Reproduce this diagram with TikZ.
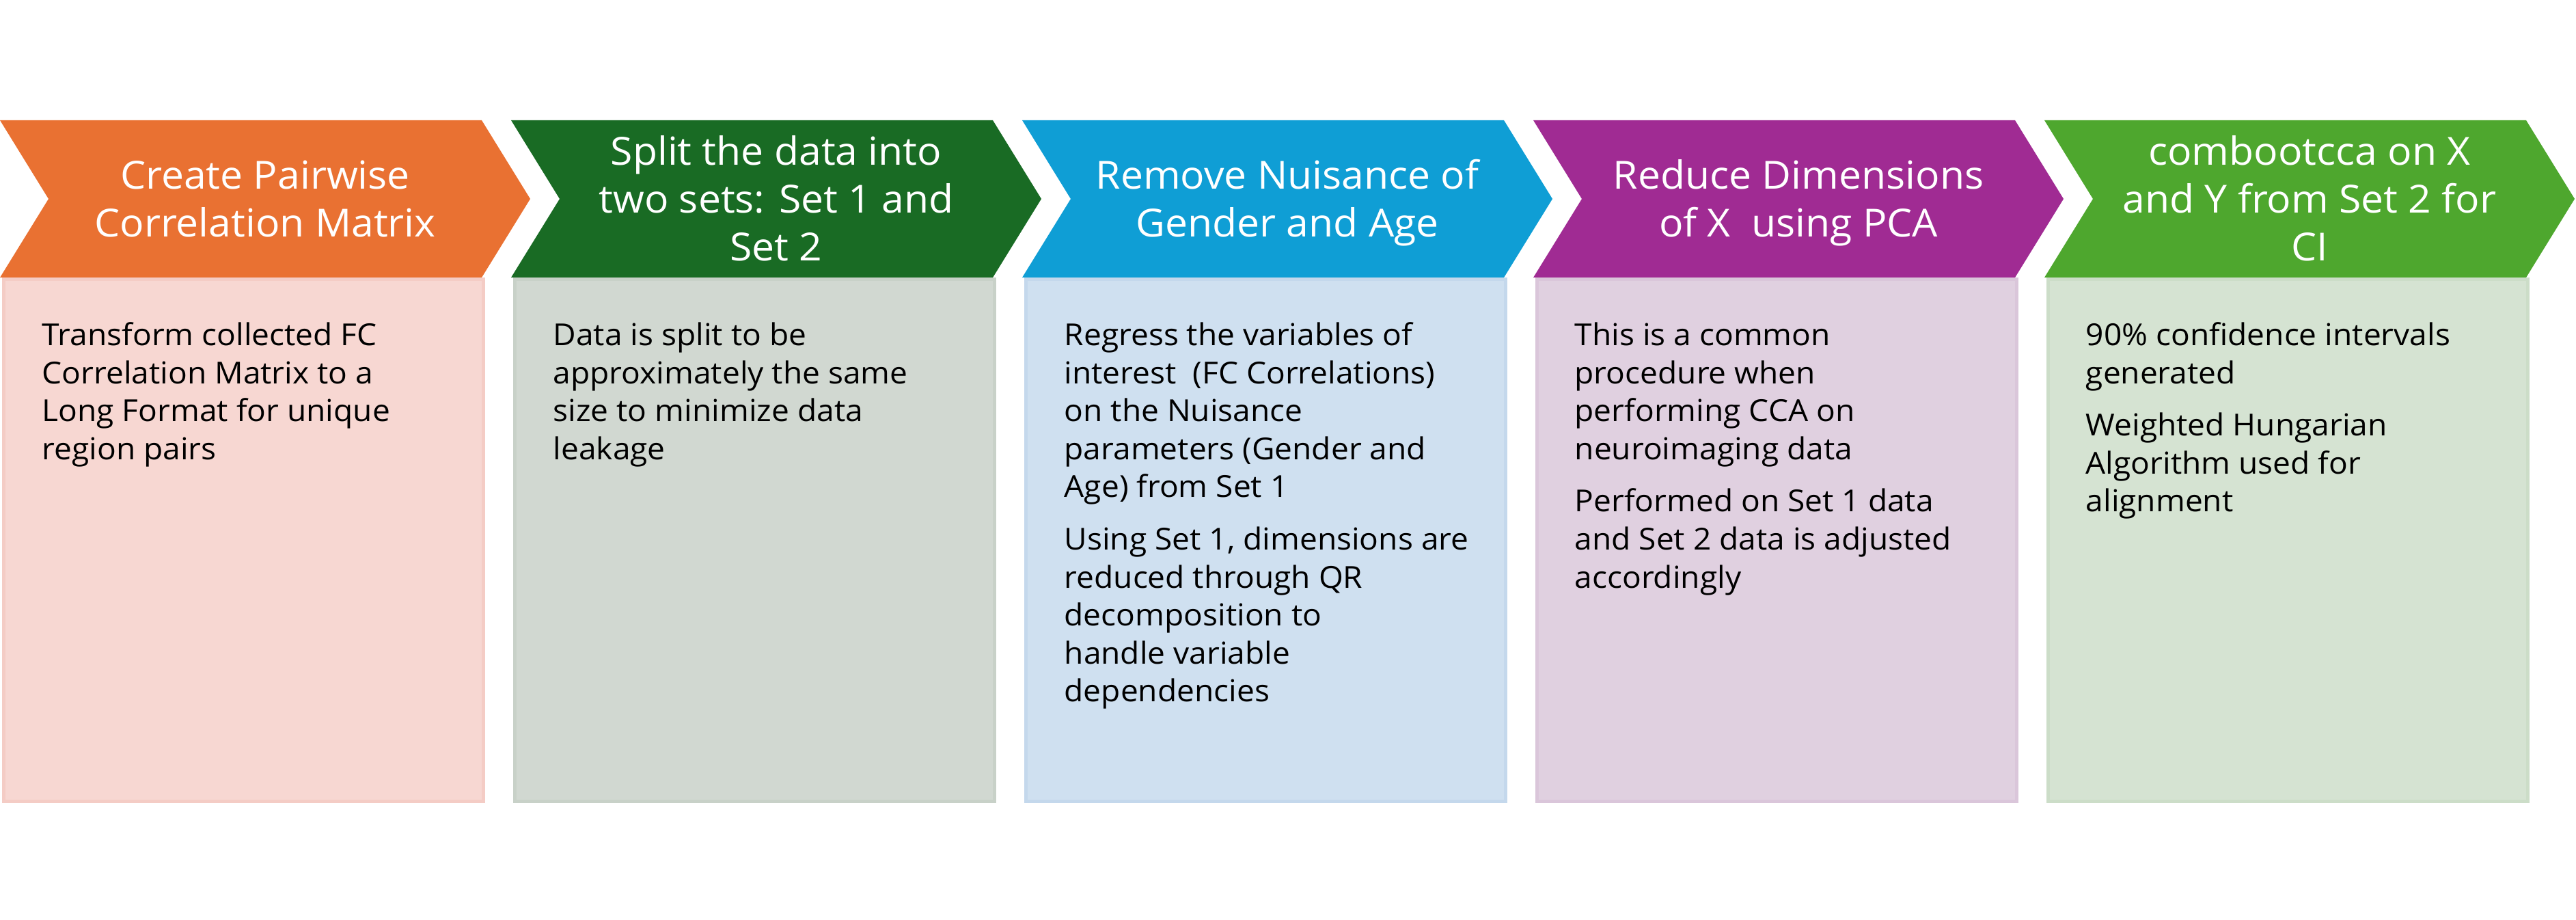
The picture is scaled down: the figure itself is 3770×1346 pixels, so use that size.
\documentclass[tikz,border=0pt]{standalone}
\usepackage{fontspec}
\setmainfont[FakeStretch=1.04]{Open Sans}
\definecolor{hdA}{HTML}{E97132}
\definecolor{hdB}{HTML}{196B24}
\definecolor{hdC}{HTML}{0F9ED5}
\definecolor{hdD}{HTML}{A02B93}
\definecolor{hdE}{HTML}{4EA72E}
\definecolor{bgA}{HTML}{F7D7D2}
\definecolor{bgB}{HTML}{D1D8D1}
\definecolor{bgC}{HTML}{CFE0F0}
\definecolor{bgD}{HTML}{E0D0E0}
\definecolor{bgE}{HTML}{D5E3D2}
\definecolor{lnA}{HTML}{F4CCC5}
\definecolor{lnB}{HTML}{C8D1C8}
\definecolor{lnC}{HTML}{C4D8EC}
\definecolor{lnD}{HTML}{DAC6DA}
\definecolor{lnE}{HTML}{CCDDC8}
\newcommand\headsize{\fontsize{16.1}{19.9}\selectfont}
\newcommand\bodysize{\fontsize{12.6}{15.8}\selectfont}
\begin{document}
\begin{tikzpicture}[x=0.01cm, y=-0.01cm,
        card/.style={minimum width=7.02cm, minimum height=7.64cm, anchor=north west, inner sep=0pt, line width=0.5mm},
        head/.style={anchor=north, align=center, text=white, inner sep=0pt, font=\headsize},
        body/.style={anchor=north west, align=left, inner sep=0pt, font=\bodysize}]
        \useasboundingbox (0,0) rectangle (3770,1346);
        \foreach \i/\hd/\bg/\ln in {0/hdA/bgA/lnA, 1/hdB/bgB/lnB, 2/hdC/bgC/lnC, 3/hdD/bgD/lnD, 4/hdE/bgE/lnE}{
            \fill[\hd] (748*\i,176) -- ++(705,0) -- ++(71,115) -- ++(-71,115)
                -- ++(-705,0) -- ++(71,-115) -- cycle;
            \node[card, fill=\bg, draw=\ln] (box\i) at (748*\i+3,406) {};
        }
        % headers (a strut on the first line fixes the top)
        \node[head] (head0) at (388,226.5) {\strut Create Pairwise\\Correlation Matrix};
        \node[head] (head1) at (1136,191.5) {\strut Split the data into\\two sets: Set 1 and\\Set 2};
        \node[head] (head2) at (1884,226.5) {\strut Remove Nuisance of\\Gender and Age};
        \node[head] (head3) at (2632,226.5) {\strut Reduce Dimensions\\of X\ \ using PCA};
        \node[head] (head4) at (3380,191.5) {\strut combootcca on X\\and Y from Set 2 for\\CI};
        % descriptions
        \node[body] (text0) at (61,466) {\strut Transform collected FC\\Correlation Matrix to a\\Long Format for unique\\region pairs};
        \node[body] (text1) at (809,466) {\strut Data is split to be\\approximately the same\\size to minimize data\\leakage};
        \node[body] (text2) at (1557,466) {\strut Regress the variables of\\interest\ \ (FC Correlations)\\on the Nuisance\\parameters (Gender and\\Age) from Set 1\\[6pt]Using Set 1, dimensions are\\reduced through QR\\decomposition to\\handle variable\\dependencies};
        \node[body] (text3) at (2304,466) {\strut This is a common\\procedure when\\performing CCA on\\neuroimaging data\\[6pt]Performed on Set 1 data\\and Set 2 data is adjusted\\accordingly};
        \node[body] (text4) at (3052,466) {\strut 90\% confidence intervals\\generated\\[6pt]Weighted Hungarian\\Algorithm used for\\alignment};
\end{tikzpicture}
\end{document}
